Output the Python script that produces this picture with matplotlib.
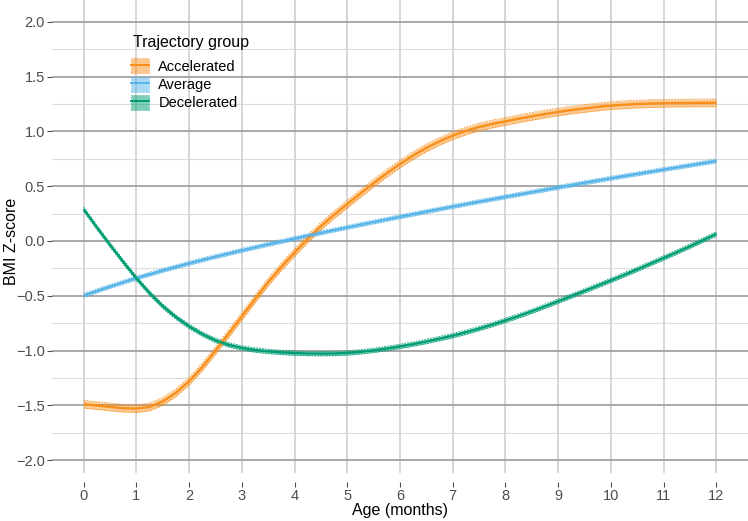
import matplotlib
matplotlib.use("Agg")
import matplotlib.pyplot as plt
from matplotlib.patches import Patch
from matplotlib.lines import Line2D

plt.rcParams['font.family'] = ['Liberation Sans', 'DejaVu Sans']

# ages (months) for the curvy groups, quarter-month steps
age_q = [0.0, 0.25, 0.5, 0.75, 1.0, 1.25, 1.5, 1.75, 2.0, 2.25, 2.5, 2.75,
         3.0, 3.25, 3.5, 3.75, 4.0, 4.25, 4.5, 4.75, 5.0, 5.25, 5.5, 5.75,
         6.0, 6.25, 6.5, 6.75, 7.0, 7.25, 7.5, 7.75, 8.0, 8.25, 8.5, 8.75,
         9.0, 9.25, 9.5, 9.75, 10.0, 10.25, 10.5, 10.75, 11.0, 11.25, 11.5,
         11.75, 12.0]

accelerated = [-1.490, -1.502, -1.515, -1.526, -1.530, -1.515, -1.465, -1.385,
               -1.280, -1.150, -1.000, -0.845, -0.688, -0.530, -0.375, -0.235,
               -0.105, 0.020, 0.135, 0.240, 0.337, 0.434, 0.529, 0.619,
               0.703, 0.781, 0.850, 0.910, 0.962, 1.005, 1.040, 1.068,
               1.092, 1.116, 1.138, 1.159, 1.178, 1.195, 1.210, 1.224,
               1.236, 1.244, 1.250, 1.254, 1.257, 1.259, 1.260, 1.261, 1.261]

decelerated = [0.290, 0.125, -0.035, -0.190, -0.340, -0.475, -0.595, -0.695,
               -0.779, -0.850, -0.907, -0.948, -0.976, -0.995, -1.008, -1.017,
               -1.023, -1.027, -1.028, -1.027, -1.022, -1.012, -0.998, -0.981,
               -0.962, -0.941, -0.917, -0.891, -0.864, -0.833, -0.799, -0.763,
               -0.724, -0.684, -0.641, -0.596, -0.549, -0.502, -0.455, -0.407,
               -0.359, -0.309, -0.258, -0.206, -0.154, -0.101, -0.047, 0.009,
               0.066]

# the average group is nearly straight, half-month steps
age_h = [0.0, 0.5, 1.0, 1.5, 2.0, 2.5, 3.0, 3.5, 4.0, 4.5, 5.0, 5.5, 6.0,
         6.5, 7.0, 7.5, 8.0, 8.5, 9.0, 9.5, 10.0, 10.5, 11.0, 11.5, 12.0]
average = [-0.496, -0.415, -0.338, -0.268, -0.203, -0.142, -0.085, -0.030,
           0.023, 0.075, 0.125, 0.174, 0.222, 0.269, 0.315, 0.360, 0.404,
           0.447, 0.490, 0.532, 0.573, 0.613, 0.653, 0.692, 0.731]

# confidence band half widths
ci_acc = 0.035
ci_avg = 0.018
ci_dec = 0.02

groups = ["Accelerated", "Average", "Decelerated"]
colors = ["#FA8E1A", "#56B4E9", "#009E73"]

x_ticks = list(range(0, 13))
y_major = [-2.0, -1.5, -1.0, -0.5, 0.0, 0.5, 1.0, 1.5, 2.0]
y_minor = [-1.75, -1.25, -0.75, -0.25, 0.25, 0.75, 1.25, 1.75]

W, H = 748, 521
fig = plt.figure(figsize=(W / 100, H / 100), dpi=100)
ax = fig.add_axes([52 / W, 39 / H, 696 / W, 482 / H])
ax.set_xlim(-0.6, 12.6)
ax.set_ylim(-2.2, 2.2)

# grid
for y in y_minor:
    ax.axhline(y, color="#dcdcdc", lw=0.8, zorder=0)
ax.vlines(x_ticks, -2.12, 2.2, color="#d3d3d3", lw=1.3, zorder=0.5)
for y in y_major:
    ax.axhline(y, color="#a3a3a3", lw=1.3, zorder=0.6)

series = [(age_q, accelerated, ci_acc), (age_h, average, ci_avg),
          (age_q, decelerated, ci_dec)]

handles = []
for (xs, ys, ci), name, col in zip(series, groups, colors):
    lo = [v - ci for v in ys]
    hi = [v + ci for v in ys]
    ax.fill_between(xs, lo, hi, color=col, alpha=0.45, lw=0, zorder=2)
    ax.plot(xs, lo, color=col, lw=0.6, ls=(0, (2, 1.5)), zorder=2.1)
    ax.plot(xs, hi, color=col, lw=0.6, ls=(0, (2, 1.5)), zorder=2.1)
    ax.plot(xs, ys, color=col, lw=1.7, zorder=3, solid_capstyle='butt')
    patch = Patch(facecolor=col, alpha=0.5, edgecolor=col, ls=(0, (2, 1.5)), lw=0.6)
    line = Line2D([], [], color=col, lw=1.4)
    handles.append((patch, line))

for s in ax.spines.values():
    s.set_visible(False)

ax.set_xticks(x_ticks)
ax.set_yticks(y_major)
ax.set_yticklabels([f"{v:.1f}".replace("-", "\u2212") for v in y_major])
ax.tick_params(axis="both", colors="#4d4d4d", labelsize=10.5, length=3.5,
               width=0.8, pad=1.5)

ax.set_xlabel("Age (months)", fontsize=11.5, color="black", va="center")
ax.set_ylabel("BMI Z-score", fontsize=11.5, color="black", va="center")
ax.xaxis.set_label_coords(0.5, (482 - 510) / 482)
ax.yaxis.set_label_coords((12 - 52) / 696, 0.5)

# legend: title as plain text, keys below it
fig.text(133 / W, 1 - 42 / H, "Trajectory group", fontsize=11.5,
         ha="left", va="center")
ax.legend(handles, groups, loc="upper left",
          bbox_to_anchor=(130 / W, 1 - 57 / H),
          bbox_transform=fig.transFigure, frameon=False,
          fontsize=10.5, handlelength=1.2, handleheight=1.2,
          labelspacing=0.2, handletextpad=0.65, borderpad=0.1,
          borderaxespad=0)

fig.savefig("out.png", dpi=100)
